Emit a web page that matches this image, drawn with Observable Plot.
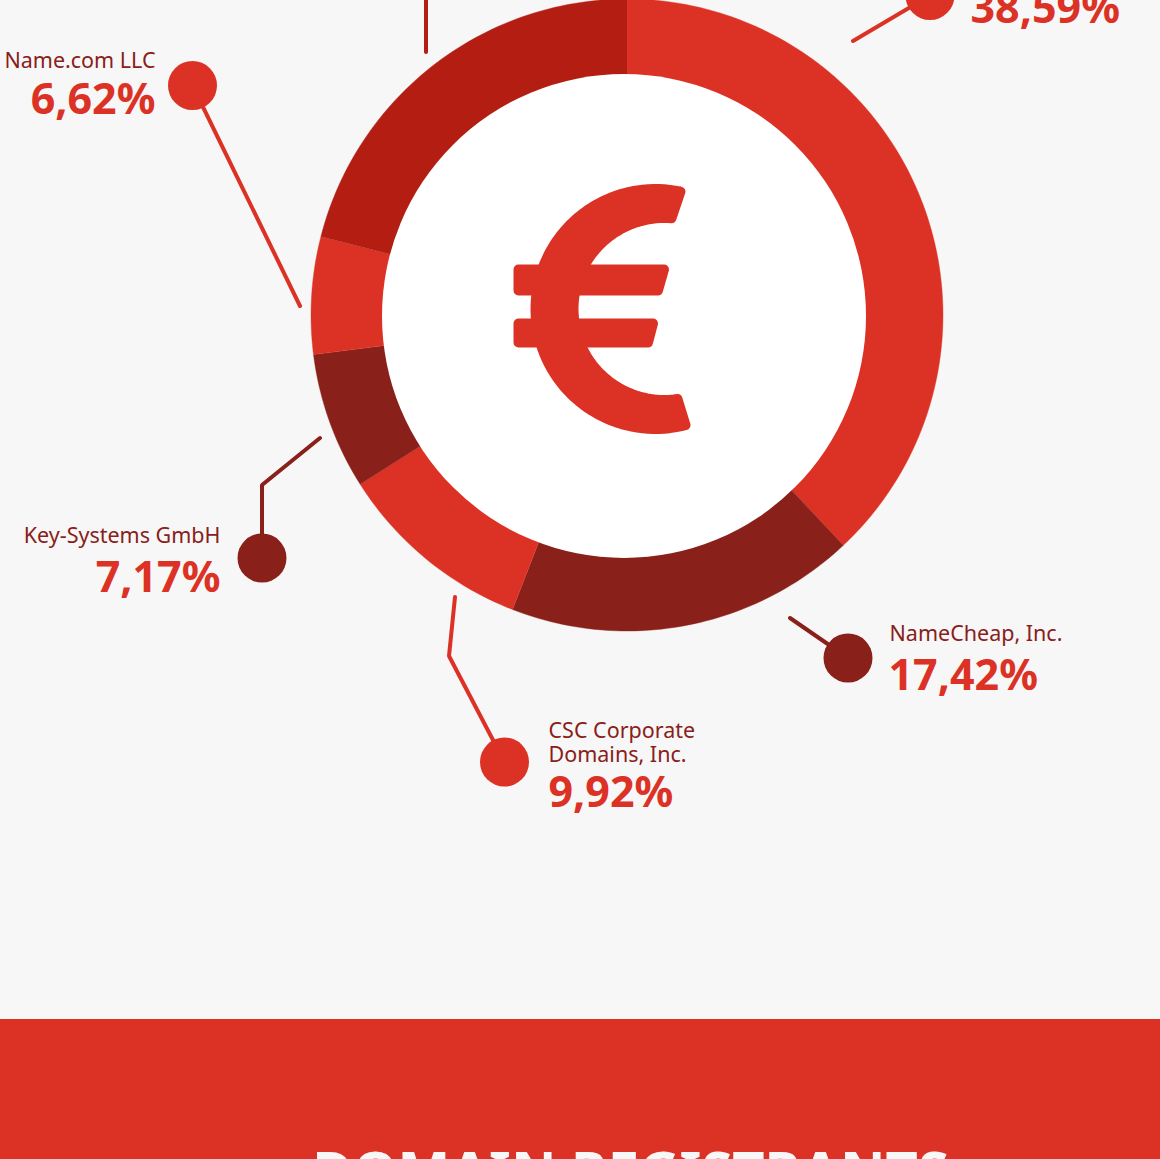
<!DOCTYPE html>
<html><head><meta charset="utf-8">
<script src="https://cdn.jsdelivr.net/npm/d3@7"></script>
<script src="https://cdn.jsdelivr.net/npm/@observablehq/plot@0.6"></script>
<style>html,body{margin:0;padding:0;background:#f7f7f7;overflow:hidden}svg{display:block}</style>
</head><body><div id="chart"></div>
<script>
const RED = "#dc3225", DARK = "#892019", DEEP = "#b31d12", BG = "#f7f7f7";
const FONT = "'Noto Sans', 'Open Sans', sans-serif";

// Slice shares as drawn (percent of the ring, clockwise from 12 o'clock)
const sliceNames  = ["Top registrant", "NameCheap, Inc.", "CSC Corporate Domains, Inc.", "Key-Systems GmbH", "Name.com LLC", "Other registrant"];
const sliceShares = [38, 17.9, 10.1, 7, 6, 21];
const sliceColors = [RED, DARK, RED, DARK, RED, DEEP];

// Callouts
const labelNames = ["Name.com LLC", "Key-Systems GmbH", "NameCheap, Inc.", "CSC Corporate\nDomains, Inc."];
const labelX     = [155, 220, 889, 548];
const labelY     = [67, 542, 640, 761];
const labelAnch  = ["end", "end", "start", "start"];
const pctTexts   = ["38,59%", "6,62%", "7,17%", "17,42%", "9,92%"];
const pctX       = [970, 155, 220, 888, 548];
const pctY       = [22, 113.5, 591.5, 689.5, 806];
const pctAnch    = ["start", "end", "end", "start", "start"];
const dotX       = [929.5, 192, 261.5, 847.5, 504];
const dotY       = [-5, 85, 557.5, 657.5, 761.5];
const dotColors  = [RED, RED, DARK, DARK, RED];
const leaders = [
  {c: RED,  p: [[852.5,40.5],[929.5,-5]]},
  {c: RED,  p: [[192,85],[299.5,305.5]]},
  {c: DARK, p: [[319.5,437.5],[261.5,484.5],[261.5,557.5]]},
  {c: RED,  p: [[454.5,596.5],[448.5,655.5],[504,761.5]]},
  {c: DARK, p: [[789.5,617.5],[847.5,657.5]]},
  {c: DEEP, p: [[425.5,-5],[425.5,51.5]]}
];

// Ring geometry
const CX = 626.5, CY = 314.5, R = 316;
const HOLE = {x: 623.5, y: 315.5, r: 242};

// Ring slices built from the shares
const total = d3.sum(sliceShares);
let acc = 0;
const ring = [];
sliceShares.forEach((s, i) => {
  const a0 = acc / total * 2 * Math.PI; acc += s;
  const a1 = acc / total * 2 * Math.PI;
  ring.push({name: sliceNames[i], x: CX, y: CY, c: sliceColors[i]});
  const n = Math.ceil(s * 3);
  for (let k = 0; k <= n; k++) {
    const a = a0 + (a1 - a0) * k / n;
    ring.push({name: sliceNames[i], x: CX + R * Math.sin(a), y: CY - R * Math.cos(a), c: sliceColors[i]});
  }
});

// Euro icon outline
const euro = [];
function arcPts(id, cx, cy, r, from, to, n) {
  for (let k = 0; k <= n; k++) {
    const a = (from + (to - from) * k / n) * Math.PI / 180;
    euro.push({id, x: cx + r * Math.cos(a), y: cy + r * Math.sin(a)});
  }
}
arcPts("c", 655, 308.5, 120, -78, -284.5, 80);
arcPts("c", 664, 308.5, 91, 81.8, 274.4, 80);
[[518,269],[663.5,269],[657.5,290],[518,290]].forEach(([x,y]) => euro.push({id:"b1", x, y}));
[[518,323],[652.5,323],[647.5,342],[518,342]].forEach(([x,y]) => euro.push({id:"b2", x, y}));

const plot = Plot.plot({
  width: 1160, height: 1159,
  marginTop: 0, marginRight: 0, marginBottom: 0, marginLeft: 0,
  x: {domain: [0, 1160], range: [0, 1160], axis: null},
  y: {domain: [0, 1159], range: [0, 1159], axis: null},
  style: {background: BG, fontFamily: FONT},
  marks: [
    Plot.rect([{}], {x1: () => 0, x2: () => 1160, y1: () => 1019, y2: () => 1159, fill: RED}),
    ...d3.groups(ring, d => d.name).map(([, pts]) =>
      Plot.line(pts, {x: "x", y: "y", fill: pts[0].c, stroke: pts[0].c, strokeWidth: 0.4})),
    Plot.dot([HOLE], {x: "x", y: "y", r: HOLE.r, fill: "white"}),
    ...d3.groups(euro, d => d.id).map(([, pts]) =>
      Plot.line(pts.concat(pts[0]), {x: "x", y: "y", fill: RED, stroke: RED, strokeWidth: 10, strokeLinejoin: "round"})),
    ...leaders.map(l => Plot.line(l.p, {x: d => d[0], y: d => d[1], stroke: l.c, strokeWidth: 4, strokeLinecap: "round", strokeLinejoin: "miter"})),
    Plot.dot(dotX.map((x, i) => ({x, y: dotY[i], c: dotColors[i]})), {x: "x", y: "y", r: 24.5, fill: d => d.c}),
    ...labelNames.map((t, i) => Plot.text([t], {x: () => labelX[i], y: () => labelY[i], text: d => d, textAnchor: labelAnch[i], lineAnchor: "bottom", lineHeight: 1.1, fontSize: 21.5, fill: DARK, fontFamily: FONT})),
    ...pctTexts.map((t, i) => Plot.text([t], {x: () => pctX[i], y: () => pctY[i], text: d => d, textAnchor: pctAnch[i], lineAnchor: "bottom", fontSize: 43, fontWeight: 700, fill: RED, fontFamily: FONT})),
    Plot.text(["DOMAIN REGISTRANTS"], {x: () => 630, y: () => 1191, text: d => d, textAnchor: "middle", lineAnchor: "bottom", fontSize: 56, fontWeight: 700, fill: BG, fontFamily: FONT})
  ]
});
document.getElementById("chart").append(plot);
</script></body></html>
